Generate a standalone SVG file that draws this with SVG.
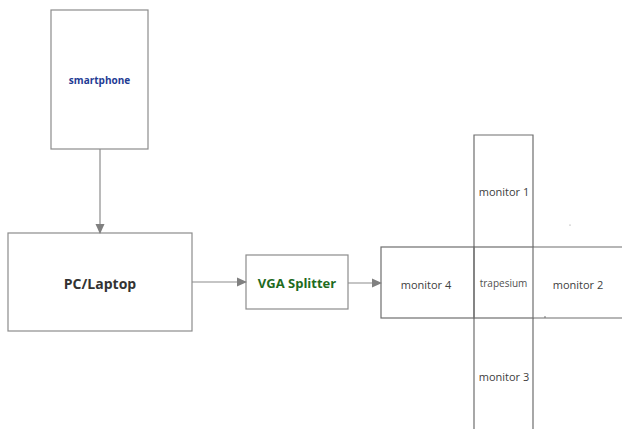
<svg xmlns="http://www.w3.org/2000/svg" width="622" height="429" viewBox="0 0 622 429">
  <style>
    .box { fill: #ffffff; stroke: #8c8c8c; stroke-width: 1.2; }
    .mon { fill: none; stroke: #6e6e6e; stroke-width: 1.2; }
    .conn { stroke: #8c8c8c; stroke-width: 1.2; fill: none; }
    .lbl { font-family: "Open Sans", "Liberation Sans", sans-serif; text-anchor: middle; dominant-baseline: central; }
    .mt { font-size: 11px; fill: #404040; }
  </style>
  <defs>
    <marker id="arrow" markerWidth="10" markerHeight="10" refX="9" refY="5" orient="auto" markerUnits="userSpaceOnUse">
      <path d="M0,0.5 L10,5 L0,9.5 Z" fill="#808080"/>
    </marker>
  </defs>
  <rect width="622" height="429" fill="#ffffff"/>

  <g id="smartphone">
    <rect class="box" x="51" y="10" width="97" height="139"/>
    <text class="lbl" x="99.5" y="80" font-size="10" font-weight="bold" fill="#1f3c94">smartphone</text>
  </g>

  <g id="pc-laptop">
    <rect class="box" x="8" y="233" width="184" height="98"/>
    <text class="lbl" x="100" y="283" font-size="14" font-weight="bold" fill="#333333">PC/Laptop</text>
  </g>

  <g id="vga-splitter">
    <rect class="box" x="246" y="255" width="102" height="54"/>
    <text class="lbl" x="297" y="283" font-size="13" font-weight="bold" fill="#1e6b1e">VGA Splitter</text>
  </g>

  <g id="monitor-1">
    <path class="mon" d="M474,247 V135 H533 V247"/>
    <text class="lbl mt" x="504" y="191">monitor 1</text>
  </g>
  <g id="monitor-4">
    <rect class="mon" x="381" y="247" width="93" height="71"/>
    <text class="lbl mt" x="426" y="284">monitor 4</text>
  </g>
  <g id="trapesium">
    <rect class="mon" x="474" y="247" width="59" height="71" stroke="#444444"/>
    <text class="lbl" x="503.5" y="283" font-size="10" fill="#505050">trapesium</text>
  </g>
  <g id="monitor-2">
    <path class="mon" d="M533,247 H622 M533,318 H622"/>
    <text class="lbl mt" x="578" y="284">monitor 2</text>
  </g>
  <g id="monitor-3">
    <path class="mon" d="M474,318 V429 M533,318 V429"/>
    <text class="lbl mt" x="504" y="376">monitor 3</text>
  </g>

  <g id="connectors">
    <line class="conn" x1="100" y1="149" x2="100" y2="233" marker-end="url(#arrow)"/>
    <line class="conn" x1="192" y1="282" x2="246" y2="282" marker-end="url(#arrow)"/>
    <line class="conn" x1="348" y1="283" x2="381" y2="283" marker-end="url(#arrow)"/>
  </g>

  <circle cx="570" cy="225" r="0.6" fill="#888888"/>
  <circle cx="545" cy="317" r="0.8" fill="#666666"/>
</svg>
